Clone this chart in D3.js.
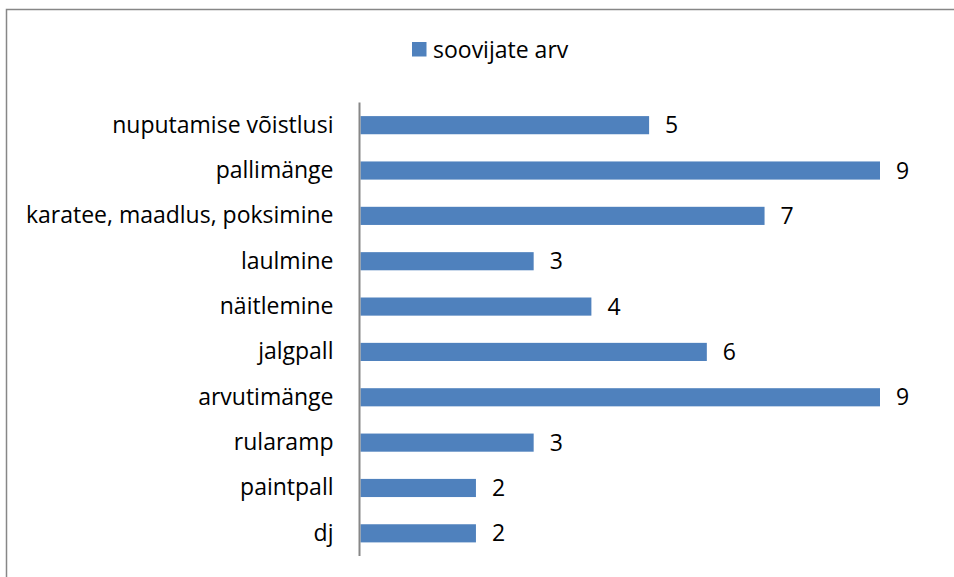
<!DOCTYPE html>
<html lang="et">
<head>
  <meta charset="UTF-8">
  <title>soovijate arv</title>
  <script src="https://cdn.jsdelivr.net/npm/d3@7"></script>
  <style>
    body { margin: 0; background: #fff; }
    svg { display: block; }
  </style>
</head>
<body>
  <div class="chart"></div>
  <script>
    // categories top to bottom, as in the picture
    const categories = [
      'nuputamise võistlusi',
      'pallimänge',
      'karatee, maadlus, poksimine',
      'laulmine',
      'näitlemine',
      'jalgpall',
      'arvutimänge',
      'rularamp',
      'paintpall',
      'dj'
    ]
    const values = [5, 9, 7, 3, 4, 6, 9, 3, 2, 2]
    const seriesName = 'soovijate arv'

    const width = 954
    const height = 577
    const font = '"Open Sans", sans-serif'
    const fontSize = '23px'
    const barColor = '#4f81bd'

    const svg = d3.select('.chart').append('svg')
      .attr('width', width)
      .attr('height', height)

    // chart area frame (only top and left edges are visible in the picture)
    svg.append('rect')
      .attr('x', 6.5)
      .attr('y', 9.5)
      .attr('width', width + 20)
      .attr('height', height + 20)
      .attr('fill', '#fff')
      .attr('stroke', '#878787')
      .attr('stroke-width', 1.5)

    const data = categories.map((c, i) => ({ name: c, value: values[i] }))

    const x = d3.scaleLinear()
      .domain([0, 9])
      .range([360.5, 880])

    const y = d3.scaleBand()
      .domain(categories)
      .range([102.5, 556])
      .paddingInner(0.6)
      .paddingOuter(0.3)

    const g = svg.append('g')

    g.selectAll('.bar')
      .data(data)
      .enter().append('rect')
      .attr('class', 'bar')
      .attr('x', x(0))
      .attr('y', d => y(d.name))
      .attr('width', d => x(d.value) - x(0))
      .attr('height', y.bandwidth())
      .attr('fill', barColor)

    // category axis
    const yAxis = g.append('g')
      .attr('transform', 'translate(' + (x(0) - 1) + ',0)')
      .call(d3.axisLeft(y).tickSize(0).tickPadding(26))
    yAxis.select('.domain')
      .attr('stroke', '#878787')
      .attr('stroke-width', 2)
      .attr('d', 'M0,102.5V556')
    yAxis.selectAll('text')
      .style('font-family', font)
      .style('font-size', fontSize)
      .attr('fill', '#000')

    // value labels
    g.selectAll('.label')
      .data(data)
      .enter().append('text')
      .attr('class', 'label')
      .attr('x', d => x(d.value) + 16)
      .attr('y', d => y(d.name) + y.bandwidth() / 2)
      .attr('dy', '0.35em')
      .style('font-family', font)
      .style('font-size', fontSize)
      .text(d => d.value)

    // legend
    const legend = svg.append('g').attr('transform', 'translate(412,42)')
    legend.append('rect')
      .attr('width', 14.5)
      .attr('height', 14.5)
      .attr('fill', barColor)
    legend.append('text')
      .attr('x', 21)
      .attr('y', 7.5)
      .attr('dy', '0.35em')
      .style('font-family', font)
      .style('font-size', fontSize)
      .text(seriesName)
  </script>
</body>
</html>
